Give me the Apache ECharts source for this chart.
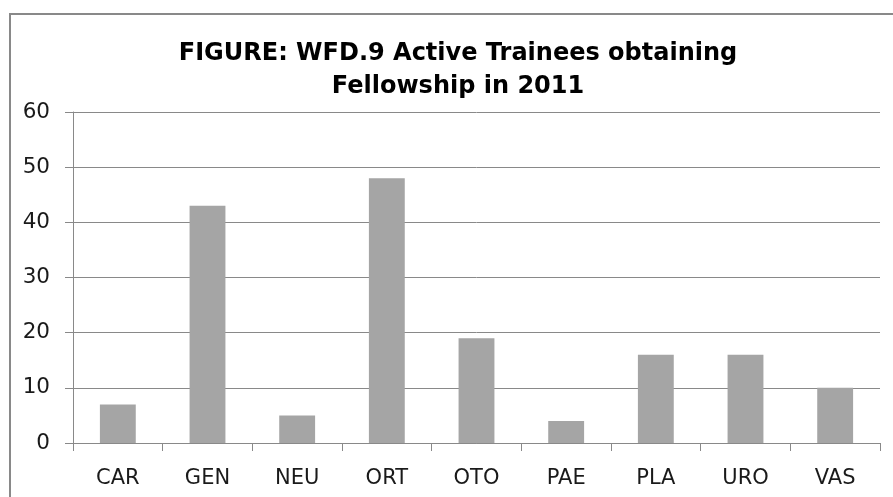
<!DOCTYPE html>
<html>
<head>
<meta charset="utf-8">
<script src="https://cdn.jsdelivr.net/npm/echarts@6/dist/echarts.min.js"></script>
<style>
html,body{margin:0;padding:0;background:#fff;}
#chart{width:893px;height:497px;}
</style>
</head>
<body>
<div id="chart"></div>
<script>
const categories = ['CAR','GEN','NEU','ORT','OTO','PAE','PLA','URO','VAS'];
const values = [7, 43, 5, 48, 19, 4, 16, 16, 10];
const yTicks = { min: 0, max: 60, interval: 10 };
const titleLines = ['FIGURE: WFD.9 Active Trainees obtaining', 'Fellowship in 2011'];

const chart = echarts.init(document.getElementById('chart'), null, { renderer: 'canvas' });
chart.setOption({
  animation: false,
  backgroundColor: '#ffffff',
  graphic: [{
    type: 'rect',
    shape: { x: 10, y: 14, width: 900, height: 500 },
    style: { fill: 'none', stroke: '#898989', lineWidth: 2 },
    silent: true, z: 100
  }],
  title: {
    text: titleLines.join('\n'),
    left: 453,
    top: 32,
    textAlign: 'center',
    textStyle: {
      fontFamily: 'DejaVu Sans',
      fontWeight: 'bold',
      fontSize: 24,
      lineHeight: 33,
      color: '#000000'
    }
  },
  grid: { left: 73, right: 13, top: 112, bottom: 54, containLabel: false },
  xAxis: {
    type: 'category',
    data: categories,
    axisLine: { show: true, lineStyle: { color: '#898989', width: 1 } },
    axisTick: { show: true, length: 8, alignWithLabel: false, lineStyle: { color: '#898989' } },
    axisLabel: { margin: 25, fontFamily: 'DejaVu Sans', fontSize: 21, color: '#1a1a1a' },
    splitLine: { show: false }
  },
  yAxis: {
    type: 'value',
    min: yTicks.min, max: yTicks.max, interval: yTicks.interval,
    axisLine: { show: true, lineStyle: { color: '#898989', width: 1 } },
    axisTick: { show: true, length: 8, lineStyle: { color: '#898989' } },
    axisLabel: { margin: 23, fontFamily: 'DejaVu Sans', fontSize: 21.5, color: '#1a1a1a' },
    splitLine: { show: true, lineStyle: { color: '#898989', width: 1 } }
  },
  series: [{
    type: 'bar',
    data: values,
    barWidth: '40%',
    itemStyle: { color: '#a5a5a5' }
  }]
});
</script>
</body>
</html>
